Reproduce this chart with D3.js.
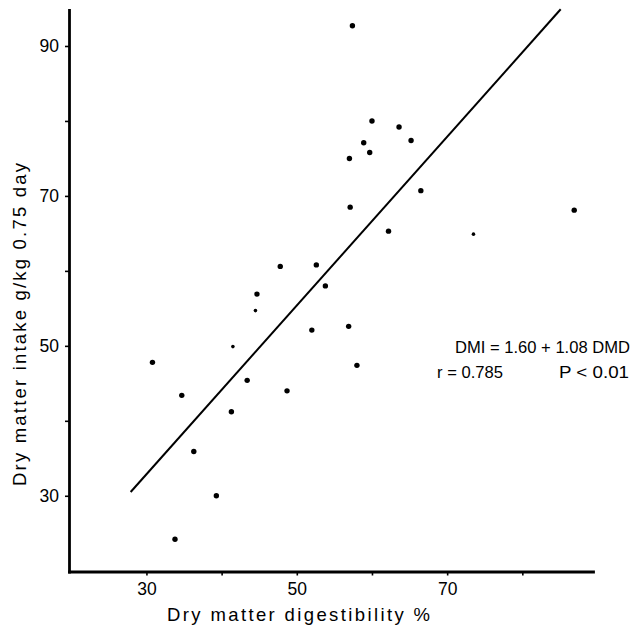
<!DOCTYPE html>
<html>
<head>
<meta charset="utf-8">
<script src="https://cdn.jsdelivr.net/npm/d3@7"></script>
<style>
  html, body { margin: 0; padding: 0; background: #fff; }
  svg { display: block; }
  text { font-family: "Liberation Sans", Arial, sans-serif; fill: #000; }
</style>
</head>
<body>
<svg id="chart" width="643" height="629"></svg>
<script>
// ---- data ----
const digestibility = [57.4, 60.0, 63.6, 65.2, 58.9, 59.7, 57.0, 66.5, 57.1, 86.9,
                       62.2, 73.5, 47.8, 52.6, 53.8, 44.7, 44.5, 52.0, 56.9, 41.5,
                       58.0, 43.4, 48.7, 41.3, 30.8, 34.7, 36.3, 39.3, 33.8];
const intake       = [92.7, 80.0, 79.2, 77.4, 77.1, 75.8, 75.0, 70.7, 68.5, 68.1,
                       65.3, 64.9, 60.6, 60.8, 58.0, 56.9, 54.7, 52.1, 52.6, 49.9,
                       47.4, 45.4, 44.0, 41.2, 47.8, 43.4, 35.9, 30.0, 24.2];
const smallPoint   = [0, 0, 0, 0, 0, 0, 0, 0, 0, 0,
                       0, 1, 0, 0, 0, 0, 1, 0, 0, 1,
                       0, 0, 0, 0, 0, 0, 0, 0, 0];
const fitX = [27.9, 85.1];
const fitY = [30.5, 94.9];
const xTicks = [30, 40, 50, 60, 70, 80];
const xTickLabels = [30, 50, 70];
const yTicks = [30, 40, 50, 60, 70, 80, 90];
const yTickLabels = [30, 50, 70, 90];
const xTitle = "Dry matter digestibility %";
const yTitle = "Dry matter intake  g/kg 0.75 day";
const eqLine1 = "DMI = 1.60 + 1.08  DMD";
const eqR = "r = 0.785";
const eqP = "P < 0.01";

// ---- drawing ----
const svg = d3.select("#chart");
const x = d3.scaleLinear().domain([19.7, 89.4]).range([69, 593]);
const y = d3.scaleLinear().domain([19.9, 94.8]).range([571.5, 10]);

const xAxis = d3.axisBottom(x).tickValues(xTicks)
  .tickFormat(d => xTickLabels.includes(d) ? d : "")
  .tickSize(4).tickSizeOuter(0).tickPadding(7);
const yAxis = d3.axisLeft(y).tickValues(yTicks)
  .tickFormat(d => yTickLabels.includes(d) ? d : "")
  .tickSize(4).tickSizeOuter(0).tickPadding(6);

const gx = svg.append("g").attr("transform", `translate(0,${y.range()[0]})`).call(xAxis);
const gy = svg.append("g").attr("transform", `translate(${x.range()[0]},0)`).call(yAxis);
[gx, gy].forEach(g => {
  g.select(".domain").attr("stroke", "#000").attr("stroke-width", 2.8).attr("stroke-linecap", "square");
  g.selectAll(".tick line").attr("stroke", "#000").attr("stroke-width", 1.6);
  g.selectAll(".tick text").attr("font-size", 17.5).attr("font-family", "Liberation Sans, Arial, sans-serif").attr("fill", "#000");
});

// regression line
svg.append("line")
  .attr("x1", x(fitX[0])).attr("y1", y(fitY[0]))
  .attr("x2", x(fitX[1])).attr("y2", y(fitY[1]))
  .attr("stroke", "#000").attr("stroke-width", 2);

// points
svg.append("g").selectAll("circle")
  .data(digestibility.map((d, i) => ({x: d, y: intake[i], s: smallPoint[i]})))
  .join("circle")
  .attr("cx", d => x(d.x)).attr("cy", d => y(d.y))
  .attr("r", d => d.s ? 1.8 : 2.7)
  .attr("fill", "#000");

// axis titles
svg.append("text")
  .attr("x", 167).attr("y", 621)
  .attr("font-size", 18.5)
  .attr("textLength", 263).attr("lengthAdjust", "spacing")
  .text(xTitle);

svg.append("text")
  .attr("transform", "translate(26,486) rotate(-90)")
  .attr("font-size", 18.5)
  .attr("textLength", 323).attr("lengthAdjust", "spacing")
  .text(yTitle);

// equation annotation
const eqFont = "DejaVu Sans Condensed, DejaVu Sans, sans-serif";
svg.append("text").attr("x", 455).attr("y", 353).attr("font-size", 16.5).attr("font-family", eqFont)
  .attr("textLength", 175).attr("lengthAdjust", "spacingAndGlyphs").text(eqLine1);
svg.append("text").attr("x", 437).attr("y", 378).attr("font-size", 16.5).attr("font-family", eqFont)
  .attr("textLength", 66).attr("lengthAdjust", "spacingAndGlyphs").text(eqR);
svg.append("text").attr("x", 559).attr("y", 378).attr("font-size", 16.5).attr("font-family", eqFont)
  .attr("textLength", 70).attr("lengthAdjust", "spacingAndGlyphs").text(eqP);
</script>
</body>
</html>
